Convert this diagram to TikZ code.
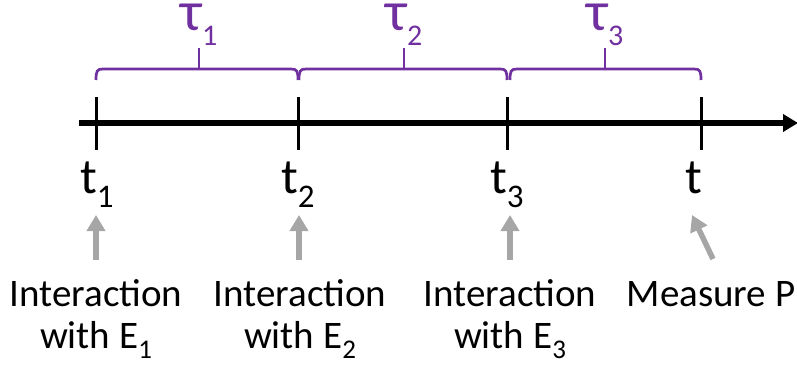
\documentclass[tikz,border=0pt]{standalone}
\usepackage{fontspec}
\setmainfont{Carlito}
\usetikzlibrary{arrows.meta}
\definecolor{tpurple}{HTML}{7030A0}
\definecolor{tgray}{HTML}{A6A6A6}
\newcommand{\lowsub}[2]{\raisebox{-0.28em}{\fontsize{#1}{#1}\selectfont #2}}
\tikzset{
  lbl/.style={font=\fontsize{39}{42}\selectfont, inner sep=0pt, align=center},
  tlbl/.style={font=\fontsize{50}{50}\selectfont, inner sep=0pt, anchor=base west},
  tau/.style={font=\fontsize{56}{56}\selectfont, text=tpurple, inner sep=0pt, anchor=base, text height=0.45em, text depth=0.2em},
  tick/.style={line width=3pt, black},
  brace/.style={line width=2.7pt, tpurple},
  garrow/.style={line width=5.5pt, tgray, -{Triangle[width=18pt,length=16pt]}}
}
\begin{document}
\begin{tikzpicture}[x=1pt,y=-1pt]
\useasboundingbox (0,0) rectangle (797,364);
% axis
\coordinate (a0) at (79,123);
\coordinate (a1) at (798,123);
\draw[line width=5.5pt, -{Triangle[width=17pt,length=15pt]}] (a0) -- (a1);
% ticks
\foreach \n/\x in {k1/96, k2/298, k3/507, k4/701}{
  \coordinate (\n t) at (\x,97);
  \coordinate (\n b) at (\x,150);
  \draw[tick] (\n t) -- (\n b);
}
% braces
\foreach \l/\r/\m/\n in {96/298/199/b1, 299/507/404/b2, 510/701/605/b3}{
  \coordinate (\n L) at (\l,80);
  \coordinate (\n R) at (\r,80);
  \coordinate (\n M) at (\m,69);
  \coordinate (\n T) at (\m,48);
  \draw[brace] (\n L) .. controls (\l,71) and (\l+1,69) .. (\l+7,69) -- (\r-7,69) .. controls (\r-1,69) and (\r,71) .. (\n R);
  \draw[brace] (\n M) -- (\n T);
}
% tau labels
\node[tau] (tau1) at (199,30) {τ\lowsub{30}{1}};
\node[tau] (tau2) at (404,30) {τ\lowsub{30}{2}};
\node[tau] (tau3) at (605,30) {τ\lowsub{30}{3}};
% time labels
\node[tlbl] (t1) at (80,193) {t\lowsub{33}{1}};
\node[tlbl] (t2) at (281,193) {t\lowsub{33}{2}};
\node[tlbl] (t3) at (490,193) {t\lowsub{33}{3}};
\node[tlbl] (t4) at (685,193) {t};
% bottom labels
\node[lbl, anchor=base] (e1) at (96,306) {Interaction};
\node[lbl, anchor=base] (w1) at (96,348) {with E\lowsub{27}{1}};
\node[lbl, anchor=base] (e2) at (300,306) {Interaction};
\node[lbl, anchor=base] (w2) at (300,348) {with E\lowsub{27}{2}};
\node[lbl, anchor=base] (e3) at (510,306) {Interaction};
\node[lbl, anchor=base] (w3) at (510,348) {with E\lowsub{27}{3}};
\node[lbl, anchor=base] (mp) at (711,306) {Measure P};
% gray arrows
\coordinate (g1s) at (96,260);  \coordinate (g1e) at (96,215);
\coordinate (g2s) at (299,260); \coordinate (g2e) at (299,215);
\coordinate (g3s) at (510,260); \coordinate (g3e) at (510,215);
\coordinate (g4s) at (713,259); \coordinate (g4e) at (692,215);
\draw[garrow] (g1s) -- (g1e);
\draw[garrow] (g2s) -- (g2e);
\draw[garrow] (g3s) -- (g3e);
\draw[garrow] (g4s) -- (g4e);
\end{tikzpicture}
\end{document}
